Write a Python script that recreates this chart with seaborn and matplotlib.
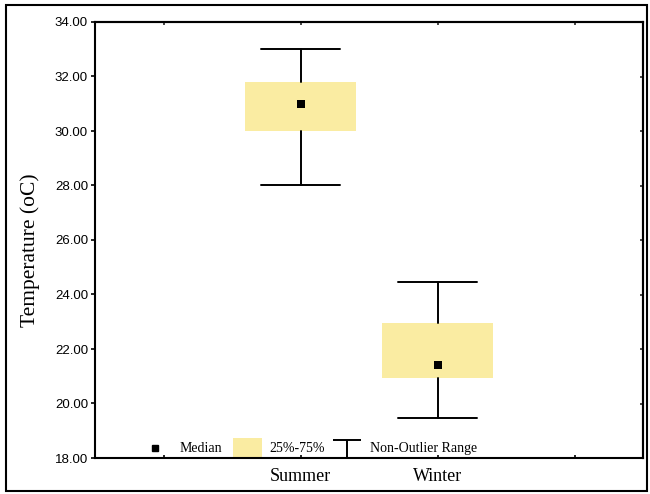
import numpy as np
import matplotlib
matplotlib.use("Agg")
import matplotlib.pyplot as plt
from matplotlib.patches import Rectangle
import seaborn as sns

# Seasonal temperature summary (oC)
seasons = ["Summer", "Winter"]
medians = [31.0, 21.4]
q1 = [30.0, 20.95]
q3 = [31.8, 22.95]
whisk_lo = [28.0, 19.45]
whisk_hi = [33.0, 24.45]
ytick_values = [18, 20, 22, 24, 26, 28, 30, 32, 34]

box_color = "#FAECA2"

sns.set_theme(style="ticks")
plt.rcParams["font.family"] = ["Liberation Serif", "DejaVu Serif"]

fig = plt.figure(figsize=(6.5, 4.94), dpi=100)
ax = fig.add_axes([95 / 650, 36 / 494, 548 / 650, 436 / 494])

positions = np.arange(len(seasons)) + 1

stats = [
    dict(med=m, q1=a, q3=b, whislo=lo, whishi=hi, fliers=[], label=s)
    for s, m, a, b, lo, hi in zip(seasons, medians, q1, q3, whisk_lo, whisk_hi)
]
ax.bxp(
    stats,
    positions=positions,
    widths=0.81,
    capwidths=0.57,
    patch_artist=True,
    showfliers=False,
    boxprops=dict(facecolor=box_color, edgecolor="none", linewidth=0),
    whiskerprops=dict(color="black", linewidth=1.4),
    capprops=dict(color="black", linewidth=1.4),
    medianprops=dict(linewidth=0),
    manage_ticks=False,
)

# Median markers
sns.scatterplot(x=positions, y=medians, marker="s", s=28, color="black",
                edgecolor="black", linewidth=0, ax=ax, legend=False, zorder=5)

ax.set_xlim(-0.5, 3.5)
ax.set_ylim(18, 34)
ax.set_xticks([0, 1, 2, 3])
ax.set_xticklabels([""] + seasons + [""], fontsize=13,
                   family="Liberation Serif")
ax.set_yticks(ytick_values)
ax.set_yticklabels([f"{v:.2f}" for v in ytick_values], fontsize=9.5,
                   family="Liberation Sans")
ax.tick_params(axis="x", direction="in", length=2.5, width=1.2, pad=7,
               colors="black")
ax.tick_params(axis="y", direction="out", length=3, width=1.2, pad=2,
               colors="black")

for sp in ax.spines.values():
    sp.set_visible(True)
    sp.set_color("black")
    sp.set_linewidth(1.5)

# Inward ticks on the top and right edges
top = ax.secondary_xaxis("top")
top.set_xticks([0, 1, 2, 3])
top.tick_params(direction="in", length=2.5, width=1.2, labeltop=False)
top.spines["top"].set_linewidth(1.5)
right = ax.secondary_yaxis("right")
right.set_yticks(ytick_values)
right.tick_params(direction="in", length=2.5, width=1.2, labelright=False)
right.spines["right"].set_linewidth(1.5)

ax.set_xlabel("")
ax.set_ylabel("")
fig.text(30 / 650, 1 - 250 / 494, "Temperature (oC)", rotation=90,
         ha="center", va="center", fontsize=15.5, color="black")

# Key along the bottom of the plot area
tr = ax.transAxes
ax.plot([0.109], [0.023], marker="s", markersize=5, color="black",
        transform=tr, clip_on=False, zorder=6)
ax.text(0.155, 0.022, "Median", transform=tr, fontsize=10, va="center",
        ha="left", color="black")
ax.add_patch(Rectangle((0.251, 0.0), 0.053, 0.046, transform=tr,
                       facecolor=box_color, edgecolor="none", zorder=2))
ax.text(0.319, 0.022, "25%-75%", transform=tr, fontsize=10, va="center",
        ha="left", color="black")
ax.plot([0.434, 0.486], [0.042, 0.042], color="black", linewidth=1.4,
        transform=tr, solid_capstyle="butt")
ax.plot([0.460, 0.460], [0.042, 0.0], color="black", linewidth=1.4,
        transform=tr, solid_capstyle="butt")
ax.text(0.501, 0.022, "Non-Outlier Range", transform=tr, fontsize=10,
        va="center", ha="left", color="black")

# Frame around the whole figure
fig.patches.append(Rectangle((6 / 650, 3 / 494), 641 / 650, 486 / 494,
                             transform=fig.transFigure, fill=False,
                             edgecolor="black", linewidth=1.5))

fig.savefig("out.png", dpi=100)
